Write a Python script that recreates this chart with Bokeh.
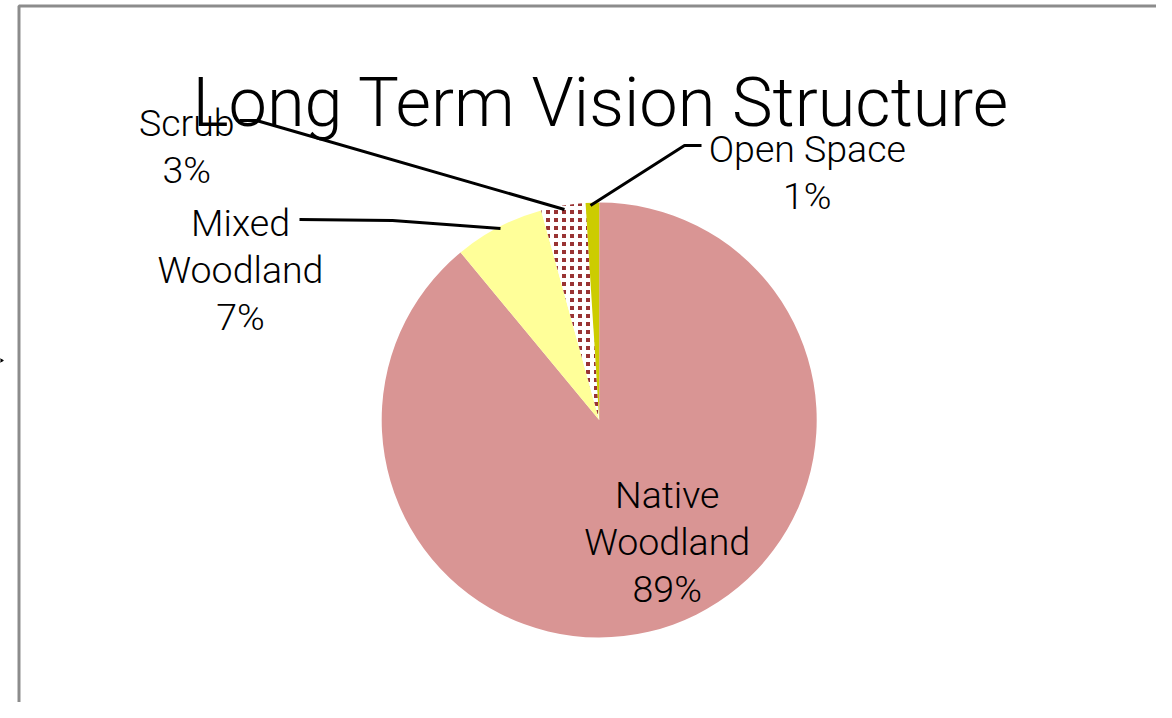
import math
from bokeh.plotting import figure
from bokeh.models import ColumnDataSource, Range1d, ImageURLTexture
from bokeh.core.properties import value
from bokeh.embed import file_html
from bokeh.resources import INLINE

# ---- data ----
categories = ["Native Woodland", "Mixed Woodland", "Scrub", "Open Space"]
label_lines = [["Native", "Woodland"], ["Mixed", "Woodland"], ["Scrub"], ["Open Space"]]
shares = [89.0, 6.7, 3.3, 1.0]
colors = ["#D99594", "#FFFF99", "#FFFFFF", "#CCCC00"]
hatches = [" ", " ", "sq", " "]
title_text = "Long Term Vision Structure"

# ---- layout ----
W, H = 1156, 702
FONT = value("Roboto Light, Roboto")
p = figure(width=W, height=H, x_range=Range1d(8, 8 + W), y_range=Range1d(0, H),
           output_backend="svg", toolbar_location=None, min_border=0)
p.axis.visible = False
p.grid.visible = False
p.outline_line_color = None
p.background_fill_color = "white"
p.border_fill_color = "white"

# chart frame (cropped)
p.line([26.5, 26.5, 1400], [-50, 696.5, 696.5], line_color="#8C8C8C", line_width=3)
# stray arrow at left edge
p.scatter([4.5], [342], marker="triangle", size=11, angle=-math.pi / 2,
          fill_color="black", line_color="black")

# ---- pie ----
cx, cy, r = 606.7, 282.5, 217.5
total = sum(shares)
starts, ends = [], []
cum = 0.0
for v in shares:
    starts.append(math.pi / 2 - 2 * math.pi * cum / total)
    cum += v
    ends.append(math.pi / 2 - 2 * math.pi * cum / total)

sq_url = ("data:image/svg+xml;utf8,"
          "<svg xmlns='http://www.w3.org/2000/svg' width='8' height='8'>"
          "<rect x='2' y='2' width='4' height='4' fill='%23993333'/></svg>")
texture = ImageURLTexture(url=sq_url, repetition="repeat")

src = ColumnDataSource(dict(cat=categories, share=shares, start=starts, end=ends,
                            color=colors, hatch=hatches))
p.wedge(x=cx, y=cy, radius=r, start_angle="start", end_angle="end", direction="clock",
        fill_color="color", line_color=None, hatch_pattern="hatch",
        hatch_extra={"sq": texture}, hatch_color="#993333", source=src)

# ---- labels ----
label_x = [674.7, 248.0, 194.3, 814.8]
label_y = [207.7, 479.3, 579.3, 553.3]
step = 47
tx, ty, tt = [], [], []
for i, v in enumerate(shares):
    lines = label_lines[i] + [f"{round(v)}%"]
    for k, s in enumerate(lines):
        tx.append(label_x[i])
        ty.append(label_y[i] - k * step)
        tt.append(s)
p.text(x=tx, y=ty, text=tt, text_align="center", text_baseline="alphabetic",
       text_font=FONT, text_font_size="37.5px", text_color="black")

# leader lines
lead_xs = [[307, 400, 508], [247, 264, 572], [598, 692, 709]]
lead_ys = [[483, 482, 474], [582, 582, 493], [497, 557, 557]]
p.multi_line(lead_xs, lead_ys, line_color="black", line_width=3)

# ---- title ----
p.text(x=[608.5], y=[600], text=[title_text], text_align="center",
       text_baseline="alphabetic", text_font=FONT, text_font_size="68.5px",
       text_color="black")

open("out.html", "w").write(file_html(p, INLINE))
